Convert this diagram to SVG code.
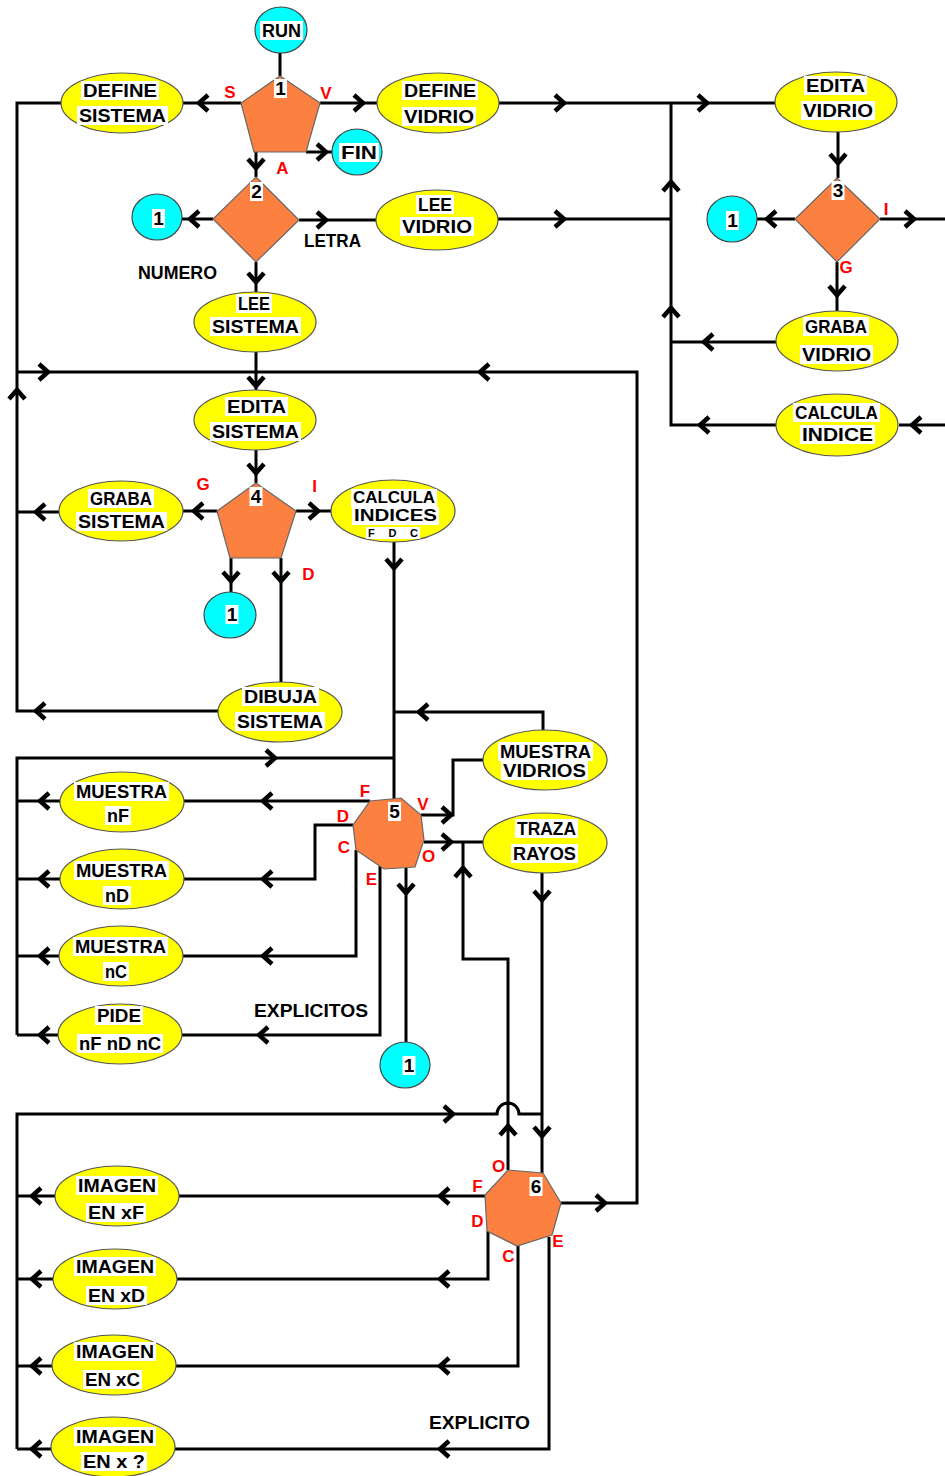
<svg xmlns="http://www.w3.org/2000/svg" xmlns:xlink="http://www.w3.org/1999/xlink" width="945" height="1476" viewBox="0 0 945 1476">
<style>
.ny{fill:#ffff00;stroke:#555;stroke-width:1.2}
.nc{fill:#00ffff;stroke:#444;stroke-width:1.2}
.no{fill:#fc8040;stroke:#666;stroke-width:1.2}
.wb{fill:#fff}
.t{font-family:"Liberation Sans",Arial,sans-serif;font-weight:bold;font-size:19px;fill:#000;text-anchor:middle}
.m{font-size:16px}
.s{font-size:11px}
.r{font-family:"Liberation Sans",Arial,sans-serif;font-weight:bold;font-size:17px;fill:#ff0000;text-anchor:middle}
.c{fill:none;stroke:#000;stroke-width:3}
.ah{fill:none;stroke:#000;stroke-width:4.5;stroke-linejoin:miter}
</style>
<defs>
<path id="ch" class="ah" d="M-9,-8 L0,0 L-9,8"/>
</defs>
<rect width="945" height="1476" fill="#fff"/>

<g id="connectors">
<path class="c" d="M280,53 V76"/>
<path class="c" d="M241,103 H183"/>
<path class="c" d="M61,103 H17 V711 H218"/>
<path class="c" d="M320,103 H377"/>
<path class="c" d="M306,152 H332"/>
<path class="c" d="M256,152 V177"/>
<path class="c" d="M213,219 H182"/>
<path class="c" d="M299,220 H376"/>
<path class="c" d="M256,262 V292"/>
<path class="c" d="M256,352 V390"/>
<path class="c" d="M17,372 H637 V1203 H561"/>
<path class="c" d="M499,103 H775"/>
<path class="c" d="M498,219 H671"/>
<path class="c" d="M671,103 V425 H776"/>
<path class="c" d="M776,342 H671"/>
<path class="c" d="M838,132 V178"/>
<path class="c" d="M795,219 H757"/>
<path class="c" d="M880,219 H945"/>
<path class="c" d="M837,262 V311"/>
<path class="c" d="M945,425 H899"/>
<path class="c" d="M256,450 V483"/>
<path class="c" d="M217,511 H183"/>
<path class="c" d="M59,512 H17"/>
<path class="c" d="M296,511 H332"/>
<path class="c" d="M231,558 V592"/>
<path class="c" d="M281,558 V682"/>
<path class="c" d="M394,542 V800"/>
<path class="c" d="M543,730 V712 H394"/>
<path class="c" d="M394,758 H17 V1035"/>
<path class="c" d="M370,801 H184"/>
<path class="c" d="M60,801 H17"/>
<path class="c" d="M353,825 H315 V879 H184"/>
<path class="c" d="M60,879 H17"/>
<path class="c" d="M356,850 V956 H183"/>
<path class="c" d="M59,956 H17"/>
<path class="c" d="M380,866 V1035 H182"/>
<path class="c" d="M58,1035 H17"/>
<path class="c" d="M406,868 V1042"/>
<path class="c" d="M421,815 H453 V760 H484"/>
<path class="c" d="M424,842 H484"/>
<path class="c" d="M508,1170 V959 H463 V842"/>
<path class="c" d="M542,873 V1173"/>
<path class="c" d="M17,1449 V1114 H497 A11,11 0 0 1 519,1114 H542"/>
<path class="c" d="M485,1196 H179"/>
<path class="c" d="M55,1196 H17"/>
<path class="c" d="M488,1231 V1279 H177"/>
<path class="c" d="M53,1279 H17"/>
<path class="c" d="M518,1246 V1366 H176"/>
<path class="c" d="M52,1366 H17"/>
<path class="c" d="M549,1237 V1449 H175"/>
<path class="c" d="M51,1449 H17"/>

<use href="#ch" transform="translate(363,103)"/>
<use href="#ch" transform="translate(326,152)"/>
<use href="#ch" transform="translate(326,220)"/>
<use href="#ch" transform="translate(564,103)"/>
<use href="#ch" transform="translate(707,103)"/>
<use href="#ch" transform="translate(564,219)"/>
<use href="#ch" transform="translate(914,219)"/>
<use href="#ch" transform="translate(318,511)"/>
<use href="#ch" transform="translate(48,372)"/>
<use href="#ch" transform="translate(275,758)"/>
<use href="#ch" transform="translate(451,815)"/>
<use href="#ch" transform="translate(451,842)"/>
<use href="#ch" transform="translate(453,1114)"/>
<use href="#ch" transform="translate(605,1203)"/>

<use href="#ch" transform="translate(199,103) rotate(180)"/>
<use href="#ch" transform="translate(190,219) rotate(180)"/>
<use href="#ch" transform="translate(767,219) rotate(180)"/>
<use href="#ch" transform="translate(704,342) rotate(180)"/>
<use href="#ch" transform="translate(700,425) rotate(180)"/>
<use href="#ch" transform="translate(912,425) rotate(180)"/>
<use href="#ch" transform="translate(480,372) rotate(180)"/>
<use href="#ch" transform="translate(194,511) rotate(180)"/>
<use href="#ch" transform="translate(36,512) rotate(180)"/>
<use href="#ch" transform="translate(36,711) rotate(180)"/>
<use href="#ch" transform="translate(419,712) rotate(180)"/>
<use href="#ch" transform="translate(263,801) rotate(180)"/>
<use href="#ch" transform="translate(40,801) rotate(180)"/>
<use href="#ch" transform="translate(263,879) rotate(180)"/>
<use href="#ch" transform="translate(40,879) rotate(180)"/>
<use href="#ch" transform="translate(263,956) rotate(180)"/>
<use href="#ch" transform="translate(40,956) rotate(180)"/>
<use href="#ch" transform="translate(259,1035) rotate(180)"/>
<use href="#ch" transform="translate(40,1035) rotate(180)"/>
<use href="#ch" transform="translate(440,1196) rotate(180)"/>
<use href="#ch" transform="translate(32,1196) rotate(180)"/>
<use href="#ch" transform="translate(440,1279) rotate(180)"/>
<use href="#ch" transform="translate(32,1279) rotate(180)"/>
<use href="#ch" transform="translate(440,1366) rotate(180)"/>
<use href="#ch" transform="translate(32,1366) rotate(180)"/>
<use href="#ch" transform="translate(440,1449) rotate(180)"/>
<use href="#ch" transform="translate(32,1449) rotate(180)"/>

<use href="#ch" transform="translate(256,168) rotate(90)"/>
<use href="#ch" transform="translate(256,282) rotate(90)"/>
<use href="#ch" transform="translate(256,386) rotate(90)"/>
<use href="#ch" transform="translate(838,163) rotate(90)"/>
<use href="#ch" transform="translate(837,295) rotate(90)"/>
<use href="#ch" transform="translate(256,473) rotate(90)"/>
<use href="#ch" transform="translate(231,581) rotate(90)"/>
<use href="#ch" transform="translate(281,581) rotate(90)"/>
<use href="#ch" transform="translate(394,568) rotate(90)"/>
<use href="#ch" transform="translate(406,893) rotate(90)"/>
<use href="#ch" transform="translate(542,900) rotate(90)"/>
<use href="#ch" transform="translate(542,1136) rotate(90)"/>

<use href="#ch" transform="translate(17,390) rotate(-90)"/>
<use href="#ch" transform="translate(671,182) rotate(-90)"/>
<use href="#ch" transform="translate(671,308) rotate(-90)"/>
<use href="#ch" transform="translate(463,868) rotate(-90)"/>
<use href="#ch" transform="translate(508,1126) rotate(-90)"/>
</g>

<g id="run">
<ellipse class="nc" cx="281" cy="30" rx="26" ry="23"/>
<rect class="wb" x="260" y="21" width="43" height="19"/>
<text class="t" x="281.5" y="37" textLength="39" lengthAdjust="spacingAndGlyphs">RUN</text>
</g>
<g id="p1">
<polygon class="no" points="280,76 320,103 306,152 254,152 241,103"/>
<rect class="wb" x="274" y="79" width="13" height="19"/>
<text class="t" x="280.5" y="95">1</text>
</g>
<g id="define-sistema">
<ellipse class="ny" cx="122" cy="103" rx="61" ry="30"/>
<rect class="wb" x="81" y="81" width="78" height="19"/>
<text class="t" x="120" y="97" textLength="74" lengthAdjust="spacingAndGlyphs">DEFINE</text>
<rect class="wb" x="77" y="106" width="91" height="19"/>
<text class="t" x="122.5" y="122" textLength="87" lengthAdjust="spacingAndGlyphs">SISTEMA</text>
</g>
<g id="define-vidrio">
<ellipse class="ny" cx="438" cy="103" rx="61" ry="30"/>
<rect class="wb" x="402" y="81" width="76" height="19"/>
<text class="t" x="440" y="97" textLength="72" lengthAdjust="spacingAndGlyphs">DEFINE</text>
<rect class="wb" x="402" y="107" width="74" height="19"/>
<text class="t" x="439" y="123" textLength="70" lengthAdjust="spacingAndGlyphs">VIDRIO</text>
</g>
<g id="fin">
<ellipse class="nc" cx="357" cy="152" rx="25" ry="23"/>
<rect class="wb" x="339" y="143" width="40" height="19"/>
<text class="t" x="359" y="159" textLength="36" lengthAdjust="spacingAndGlyphs">FIN</text>
</g>
<g id="d2">
<polygon class="no" points="256,177 299,220 256,262 213,219"/>
<rect class="wb" x="250" y="182" width="13" height="19"/>
<text class="t" x="256.5" y="198">2</text>
</g>
<g id="c1a">
<ellipse class="nc" cx="157" cy="217" rx="25" ry="23"/>
<rect class="wb" x="152" y="209" width="13" height="19"/>
<text class="t" x="158.5" y="225">1</text>
</g>
<g id="lee-vidrio">
<ellipse class="ny" cx="437" cy="220" rx="61" ry="30"/>
<rect class="wb" x="416" y="195" width="38" height="19"/>
<text class="t" x="435" y="211" textLength="34" lengthAdjust="spacingAndGlyphs">LEE</text>
<rect class="wb" x="400" y="217" width="74" height="19"/>
<text class="t" x="437" y="233" textLength="70" lengthAdjust="spacingAndGlyphs">VIDRIO</text>
</g>
<g id="lee-sistema">
<ellipse class="ny" cx="255" cy="322" rx="61" ry="30"/>
<rect class="wb" x="236" y="294" width="36" height="19"/>
<text class="t" x="254" y="310" textLength="32" lengthAdjust="spacingAndGlyphs">LEE</text>
<rect class="wb" x="210" y="317" width="91" height="19"/>
<text class="t" x="255.5" y="333" textLength="87" lengthAdjust="spacingAndGlyphs">SISTEMA</text>
</g>
<g id="edita-vidrio">
<ellipse class="ny" cx="836" cy="102" rx="61" ry="30"/>
<rect class="wb" x="804" y="76" width="63" height="19"/>
<text class="t" x="835.5" y="92" textLength="59" lengthAdjust="spacingAndGlyphs">EDITA</text>
<rect class="wb" x="801" y="101" width="74" height="19"/>
<text class="t" x="838" y="117" textLength="70" lengthAdjust="spacingAndGlyphs">VIDRIO</text>
</g>
<g id="d3">
<polygon class="no" points="837,178 880,219 837,262 795,219"/>
<rect class="wb" x="831.5" y="181" width="13" height="19"/>
<text class="t" x="838" y="197">3</text>
</g>
<g id="c1b">
<ellipse class="nc" cx="732" cy="219" rx="25" ry="23"/>
<rect class="wb" x="726" y="211" width="13" height="19"/>
<text class="t" x="732.5" y="227">1</text>
</g>
<g id="graba-vidrio">
<ellipse class="ny" cx="837" cy="341" rx="61" ry="30"/>
<rect class="wb" x="803" y="317" width="66" height="19"/>
<text class="t" x="836" y="333" textLength="62" lengthAdjust="spacingAndGlyphs">GRABA</text>
<rect class="wb" x="800" y="345" width="73" height="19"/>
<text class="t" x="836.5" y="361" textLength="69" lengthAdjust="spacingAndGlyphs">VIDRIO</text>
</g>
<g id="calcula-indice">
<ellipse class="ny" cx="837" cy="425" rx="61" ry="31"/>
<rect class="wb" x="793" y="403" width="87" height="19"/>
<text class="t" x="836.5" y="419" textLength="83" lengthAdjust="spacingAndGlyphs">CALCULA</text>
<rect class="wb" x="800" y="425" width="75" height="19"/>
<text class="t" x="837.5" y="441" textLength="71" lengthAdjust="spacingAndGlyphs">INDICE</text>
</g>
<g id="edita-sistema">
<ellipse class="ny" cx="255" cy="420" rx="61" ry="30"/>
<rect class="wb" x="225" y="397" width="63" height="19"/>
<text class="t" x="256.5" y="413" textLength="59" lengthAdjust="spacingAndGlyphs">EDITA</text>
<rect class="wb" x="210" y="422" width="91" height="19"/>
<text class="t" x="255.5" y="438" textLength="87" lengthAdjust="spacingAndGlyphs">SISTEMA</text>
</g>
<g id="p4">
<polygon class="no" points="256,483 296,511 281,558 230,558 217,511"/>
<rect class="wb" x="249.5" y="487" width="13" height="19"/>
<text class="t" x="256" y="503">4</text>
</g>
<g id="graba-sistema">
<ellipse class="ny" cx="121" cy="511" rx="62" ry="30"/>
<rect class="wb" x="88" y="489" width="66" height="19"/>
<text class="t" x="121" y="505" textLength="62" lengthAdjust="spacingAndGlyphs">GRABA</text>
<rect class="wb" x="76" y="512" width="91" height="19"/>
<text class="t" x="121.5" y="528" textLength="87" lengthAdjust="spacingAndGlyphs">SISTEMA</text>
</g>
<g id="calcula-indices">
<ellipse class="ny" cx="393" cy="511" rx="62" ry="31"/>
<rect class="wb" x="351" y="489" width="86" height="18"/>
<text class="t m" x="394" y="503" textLength="82" lengthAdjust="spacingAndGlyphs">CALCULA</text>
<rect class="wb" x="352" y="507" width="87" height="18"/>
<text class="t m" x="395.5" y="521" textLength="83" lengthAdjust="spacingAndGlyphs">INDICES</text>
<rect class="wb" x="366" y="527" width="54" height="12"/>
<text class="t s" x="393" y="537" textLength="50" lengthAdjust="spacing">F D C</text>
</g>
<g id="c1c">
<ellipse class="nc" cx="230" cy="615" rx="26" ry="23"/>
<rect class="wb" x="225.5" y="605" width="13" height="19"/>
<text class="t" x="232" y="621">1</text>
</g>
<g id="dibuja-sistema">
<ellipse class="ny" cx="280" cy="712" rx="62" ry="30"/>
<rect class="wb" x="242" y="687" width="77" height="19"/>
<text class="t" x="280.5" y="703" textLength="73" lengthAdjust="spacingAndGlyphs">DIBUJA</text>
<rect class="wb" x="235" y="712" width="90" height="19"/>
<text class="t" x="280" y="728" textLength="86" lengthAdjust="spacingAndGlyphs">SISTEMA</text>
</g>
<g id="muestra-vidrios">
<ellipse class="ny" cx="545" cy="760" rx="62" ry="30"/>
<rect class="wb" x="498" y="742" width="95" height="19"/>
<text class="t" x="545.5" y="758" textLength="91" lengthAdjust="spacingAndGlyphs">MUESTRA</text>
<rect class="wb" x="501" y="761" width="87" height="19"/>
<text class="t" x="544.5" y="777" textLength="83" lengthAdjust="spacingAndGlyphs">VIDRIOS</text>
</g>
<g id="traza-rayos">
<ellipse class="ny" cx="545" cy="843" rx="62" ry="30"/>
<rect class="wb" x="515" y="819" width="63" height="19"/>
<text class="t" x="546.5" y="835" textLength="59" lengthAdjust="spacingAndGlyphs">TRAZA</text>
<rect class="wb" x="511" y="844" width="67" height="19"/>
<text class="t" x="544.5" y="860" textLength="63" lengthAdjust="spacingAndGlyphs">RAYOS</text>
</g>
<g id="h5">
<polygon class="no" points="370,801 401,798 421,815 424,840 415,867 384,869 356,850 353,825"/>
<rect class="wb" x="388" y="802" width="13" height="19"/>
<text class="t" x="394.5" y="818">5</text>
</g>
<g id="muestra-nf">
<ellipse class="ny" cx="122" cy="802" rx="62" ry="30"/>
<rect class="wb" x="74" y="782" width="95" height="19"/>
<text class="t" x="121.5" y="798" textLength="91" lengthAdjust="spacingAndGlyphs">MUESTRA</text>
<rect class="wb" x="105" y="806" width="26" height="19"/>
<text class="t" x="118" y="822" textLength="22" lengthAdjust="spacingAndGlyphs">nF</text>
</g>
<g id="muestra-nd">
<ellipse class="ny" cx="122" cy="879" rx="62" ry="30"/>
<rect class="wb" x="74" y="861" width="95" height="19"/>
<text class="t" x="121.5" y="877" textLength="91" lengthAdjust="spacingAndGlyphs">MUESTRA</text>
<rect class="wb" x="103" y="886" width="28" height="19"/>
<text class="t" x="117" y="902" textLength="24" lengthAdjust="spacingAndGlyphs">nD</text>
</g>
<g id="muestra-nc">
<ellipse class="ny" cx="121" cy="956" rx="62" ry="30"/>
<rect class="wb" x="73" y="937" width="95" height="19"/>
<text class="t" x="120.5" y="953" textLength="91" lengthAdjust="spacingAndGlyphs">MUESTRA</text>
<rect class="wb" x="103" y="962" width="26" height="19"/>
<text class="t" x="116" y="978" textLength="22" lengthAdjust="spacingAndGlyphs">nC</text>
</g>
<g id="pide">
<ellipse class="ny" cx="120" cy="1034" rx="62" ry="30"/>
<rect class="wb" x="95" y="1006" width="48" height="19"/>
<text class="t" x="119" y="1022" textLength="44" lengthAdjust="spacingAndGlyphs">PIDE</text>
<rect class="wb" x="77" y="1034" width="86" height="19"/>
<text class="t" x="120" y="1050" textLength="82" lengthAdjust="spacingAndGlyphs">nF nD nC</text>
</g>
<g id="c1d">
<ellipse class="nc" cx="405" cy="1065" rx="25" ry="23"/>
<rect class="wb" x="402.5" y="1056" width="13" height="19"/>
<text class="t" x="409" y="1072">1</text>
</g>
<g id="h6">
<polygon class="no" points="508,1170 543,1173 561,1203 552,1235 517,1246 487,1231 485,1195"/>
<rect class="wb" x="529.5" y="1177" width="13" height="19"/>
<text class="t" x="536" y="1193">6</text>
</g>
<g id="imagen-xf">
<ellipse class="ny" cx="117" cy="1196" rx="62" ry="30"/>
<rect class="wb" x="76" y="1176" width="82" height="19"/>
<text class="t" x="117" y="1192" textLength="78" lengthAdjust="spacingAndGlyphs">IMAGEN</text>
<rect class="wb" x="86" y="1203" width="60" height="19"/>
<text class="t" x="116" y="1219" textLength="56" lengthAdjust="spacingAndGlyphs">EN xF</text>
</g>
<g id="imagen-xd">
<ellipse class="ny" cx="115" cy="1279" rx="62" ry="30"/>
<rect class="wb" x="74" y="1257" width="82" height="19"/>
<text class="t" x="115" y="1273" textLength="78" lengthAdjust="spacingAndGlyphs">IMAGEN</text>
<rect class="wb" x="86" y="1286" width="61" height="19"/>
<text class="t" x="116.5" y="1302" textLength="57" lengthAdjust="spacingAndGlyphs">EN xD</text>
</g>
<g id="imagen-xc">
<ellipse class="ny" cx="114" cy="1365" rx="62" ry="30"/>
<rect class="wb" x="74" y="1342" width="82" height="19"/>
<text class="t" x="115" y="1358" textLength="78" lengthAdjust="spacingAndGlyphs">IMAGEN</text>
<rect class="wb" x="83" y="1370" width="59" height="19"/>
<text class="t" x="112.5" y="1386" textLength="55" lengthAdjust="spacingAndGlyphs">EN xC</text>
</g>
<g id="imagen-x">
<ellipse class="ny" cx="113" cy="1447" rx="62" ry="30"/>
<rect class="wb" x="74" y="1427" width="82" height="19"/>
<text class="t" x="115" y="1443" textLength="78" lengthAdjust="spacingAndGlyphs">IMAGEN</text>
<rect class="wb" x="81" y="1452" width="66" height="19"/>
<text class="t" x="114" y="1468" textLength="62" lengthAdjust="spacingAndGlyphs">EN x ?</text>
</g>

<g id="labels">
<text class="t" x="177.5" y="279" textLength="79" lengthAdjust="spacingAndGlyphs">NUMERO</text>
<text class="t" x="332.5" y="247" textLength="57" lengthAdjust="spacingAndGlyphs">LETRA</text>
<text class="t" x="311" y="1017" textLength="114" lengthAdjust="spacingAndGlyphs">EXPLICITOS</text>
<text class="t" x="479.5" y="1429" textLength="101" lengthAdjust="spacingAndGlyphs">EXPLICITO</text>
<text class="r" x="230" y="98">S</text>
<text class="r" x="326" y="99">V</text>
<text class="r" x="282.5" y="174">A</text>
<text class="r" x="846" y="273">G</text>
<text class="r" x="886" y="215">I</text>
<text class="r" x="203" y="490">G</text>
<text class="r" x="314.5" y="492">I</text>
<text class="r" x="308.5" y="580">D</text>
<text class="r" x="365" y="797">F</text>
<text class="r" x="343" y="822">D</text>
<text class="r" x="344" y="853">C</text>
<text class="r" x="371.5" y="885">E</text>
<text class="r" x="423" y="810">V</text>
<text class="r" x="428.5" y="862">O</text>
<text class="r" x="498.5" y="1172">O</text>
<text class="r" x="477.5" y="1192">F</text>
<text class="r" x="477.5" y="1227">D</text>
<text class="r" x="508.5" y="1262">C</text>
<text class="r" x="558" y="1247">E</text>
</g>
</svg>
